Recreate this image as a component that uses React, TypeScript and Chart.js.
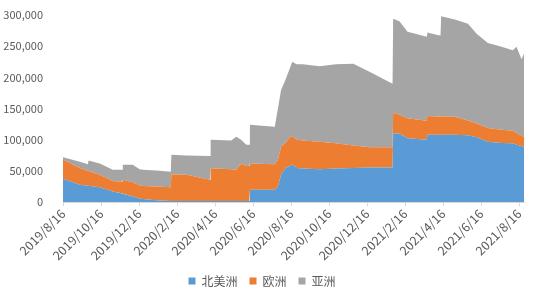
import React, { useEffect, useRef } from "react";
import { Chart, registerables } from "chart.js";

Chart.register(...registerables);

const tickLabels = [
  "2019/8/16", "2019/10/16", "2019/12/16", "2020/2/16", "2020/4/16", "2020/6/16",
  "2020/8/16", "2020/10/16", "2020/12/16", "2021/2/16", "2021/4/16", "2021/6/16", "2021/8/16",
];

// day offsets from 2019/8/16 (one tick interval = 61 days)
const days = [
  0, 27, 40, 41, 59, 80, 95, 96, 112, 123, 128, 150, 173, 174, 198, 236, 237, 270, 278, 286,
  294, 299, 300, 340, 345, 350, 357, 365, 368, 375, 385, 412, 438, 466, 492, 529, 530, 540,
  553, 584, 585, 601, 606, 607, 629, 650, 664, 682, 704, 722, 728, 736, 740,
];

const northAmerica = [
  37500, 28000, 26500, 26500, 24000, 17000, 14000, 14000, 9000, 6000, 5000, 3000, 2000, 2000,
  2000, 2000, 2000, 2000, 2000, 2000, 2000, 2000, 20000, 20000, 25000, 44000, 55000, 58000,
  61000, 55000, 54000, 53000, 54000, 55000, 55500, 55600, 110500, 110000, 102500, 100000,
  108000, 108000, 108000, 108000, 108000, 107500, 104000, 97000, 95000, 94500, 92000, 90000, 88000,
];

const europe = [
  30500, 27000, 23500, 23500, 20000, 17000, 19000, 22000, 23000, 21000, 21000, 22000, 22000,
  43000, 42000, 34000, 52600, 51000, 50000, 60000, 56000, 56000, 42000, 41000, 43000, 45000,
  40000, 47000, 45000, 45000, 45000, 44000, 40500, 36000, 32500, 32400, 33000, 30000, 32000,
  30700, 30000, 29500, 29500, 29500, 29000, 23500, 22000, 22000, 21000, 20200, 19000, 16500, 17000,
];

const asia = [
  4000, 10000, 11000, 17000, 18000, 18000, 19000, 24000, 28000, 26000, 26000, 26000, 25000,
  31000, 31000, 38000, 45400, 46000, 53000, 38000, 34000, 34000, 62000, 60000, 82000, 91000,
  101000, 112000, 119000, 121000, 122000, 121000, 126500, 131000, 121000, 102000, 150500,
  150000, 138500, 134300, 134000, 130500, 129500, 160500, 155600, 155000, 144000, 136000,
  133000, 128800, 138000, 122500, 133000,
];

const seriesNames = ["北美洲", "欧洲", "亚洲"];
const seriesColors = ["#5B9BD5", "#ED7D31", "#A5A5A5"];

const FONT = "'Noto Sans CJK SC', 'Noto Sans', sans-serif";
const TEXT = "#595959";

export default function App() {
  const ref = useRef<HTMLCanvasElement | null>(null);

  useEffect(() => {
    if (!ref.current) return;
    const all = [northAmerica, europe, asia];
    const chart = new Chart(ref.current, {
      type: "line",
      data: {
        datasets: all.map((vals, i) => ({
          label: seriesNames[i],
          data: days.map((d, j) => ({ x: d, y: vals[j] })),
          backgroundColor: seriesColors[i],
          borderColor: seriesColors[i],
          borderWidth: 0,
          pointRadius: 0,
          tension: 0,
          fill: i === 0 ? "origin" : "-1",
        })),
      },
      options: {
        animation: false,
        responsive: false,
        maintainAspectRatio: false,
        layout: { padding: { left: 0, right: 26, top: 15, bottom: 6 } },
        plugins: {
          tooltip: { enabled: false },
          legend: {
            position: "bottom",
            labels: {
              boxWidth: 7,
              boxHeight: 7,
              padding: 12,
              color: TEXT,
              font: { family: FONT, size: 12 },
            },
          },
        },
        scales: {
          x: {
            type: "linear",
            min: 0,
            max: 740,
            afterBuildTicks: (scale: any) => {
              scale.ticks = tickLabels.map((_, i) => ({ value: i * 61 }));
            },
            ticks: {
              autoSkip: false,
              maxRotation: 45,
              minRotation: 45,
              color: TEXT,
              font: { family: FONT, size: 12.5 },
              padding: 0,
              callback: (v: any) => tickLabels[Math.round(Number(v) / 61)] ?? "",
            },
            grid: {
              display: true,
              drawOnChartArea: false,
              tickLength: 4,
              color: "#D9D9D9",
            },
            border: { display: true, color: "#D9D9D9" },
          },
          y: {
            stacked: true,
            min: 0,
            max: 300000,
            afterFit: (scale: any) => {
              scale.width = 63;
              scale.paddingTop = 0;
              scale.paddingBottom = 0;
            },
            ticks: {
              stepSize: 50000,
              color: TEXT,
              padding: 12,
              font: { family: FONT, size: 11 },
              callback: (v: any) => Number(v).toLocaleString("en-US"),
            },
            grid: { display: false },
            border: { display: false },
          },
        },
      },
    });
    return () => chart.destroy();
  }, []);

  return (
    <div style={{ position: "fixed", left: 0, top: 0, width: 550, height: 303, background: "#fff" }}>
      <canvas ref={ref} width={550} height={303} style={{ width: 550, height: 303 }} />
    </div>
  );
}
